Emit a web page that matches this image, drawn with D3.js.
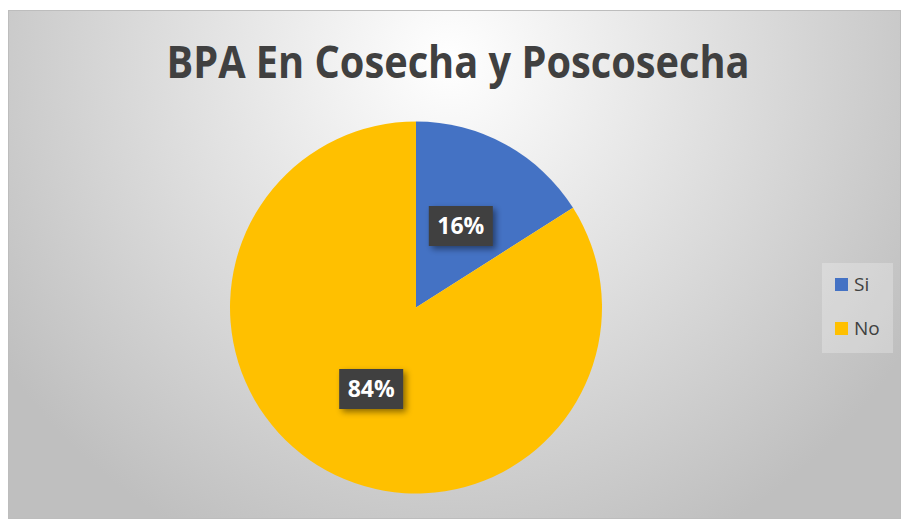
<!DOCTYPE html>
<html>
<head>
<meta charset="utf-8">
<script src="https://cdn.jsdelivr.net/npm/d3@7"></script>
<style>
  html, body { margin: 0; padding: 0; background: #fff; }
  svg { display: block; }
</style>
</head>
<body>
<div id="chart"></div>
<script>
// Chart data
const categories = ["Si", "No"];
const values = [16, 84];
const colors = ["#4472C4", "#FFC000"];
const titleText = "BPA En Cosecha y Poscosecha";

const width = 901, height = 519;
const font = "'Open Sans', 'Noto Sans', sans-serif";

const svg = d3.select("#chart")
    .append("svg")
    .attr("width", width)
    .attr("height", height);

const defs = svg.append("defs");

// Background gradient, light at top centre
const bg = defs.append("radialGradient")
    .attr("id", "bg")
    .attr("gradientUnits", "userSpaceOnUse")
    .attr("cx", 450).attr("cy", 60).attr("r", 540);
bg.append("stop").attr("offset", "0%").attr("stop-color", "#ffffff");
bg.append("stop").attr("offset", "100%").attr("stop-color", "#bfbfbf");

// Shadow for label boxes
const shadow = defs.append("filter").attr("id", "shadow")
    .attr("x", "-30%").attr("y", "-30%").attr("width", "170%").attr("height", "170%");
shadow.append("feDropShadow")
    .attr("dx", 3).attr("dy", 3).attr("stdDeviation", 3)
    .attr("flood-color", "#000").attr("flood-opacity", 0.45);

// Chart area
svg.append("rect")
    .attr("x", 8.5).attr("y", 10.5)
    .attr("width", width - 9).attr("height", height - 11)
    .attr("fill", "url(#bg)")
    .attr("stroke", "#bdbdbd");

// Title
svg.append("text")
    .attr("x", 458)
    .attr("y", 78)
    .attr("text-anchor", "middle")
    .attr("textLength", 583)
    .attr("lengthAdjust", "spacingAndGlyphs")
    .style("font-family", font)
    .style("font-weight", "bold")
    .style("font-size", "44px")
    .style("fill", "#404040")
    .text(titleText);

// Pie
const cx = 416, cy = 307.5, r = 186;
const data = categories.map((c, i) => ({ name: c, value: values[i], color: colors[i] }));

const pie = d3.pie().sort(null).value(d => d.value);
const arc = d3.arc().innerRadius(0).outerRadius(r);
const arcs = pie(data);

const g = svg.append("g").attr("transform", `translate(${cx},${cy})`);

g.selectAll("path")
    .data(arcs)
    .join("path")
    .attr("d", arc)
    .attr("fill", d => d.data.color);

// Data labels (dark boxes)
const labelArc = d3.arc().innerRadius(r * 0.5).outerRadius(r * 0.5);
const boxW = 64, boxH = 40;

const labels = g.selectAll("g.lbl")
    .data(arcs)
    .join("g")
    .attr("class", "lbl")
    .attr("transform", d => {
        const [x, y] = labelArc.centroid(d);
        return `translate(${x},${y})`;
    });

labels.append("rect")
    .attr("x", -boxW / 2).attr("y", -boxH / 2)
    .attr("width", boxW).attr("height", boxH)
    .attr("fill", "#404040")
    .attr("filter", "url(#shadow)");

labels.append("text")
    .attr("text-anchor", "middle")
    .attr("dy", "0.36em")
    .style("font-family", font)
    .style("font-weight", "bold")
    .style("font-size", "23px")
    .style("fill", "#ffffff")
    .text(d => d.data.value + "%");

// Legend
const legend = svg.append("g").attr("transform", "translate(822,263)");
legend.append("rect")
    .attr("width", 71).attr("height", 90)
    .attr("fill", "#ffffff")
    .attr("fill-opacity", 0.25);

const item = legend.selectAll("g.item")
    .data(data)
    .join("g")
    .attr("class", "item")
    .attr("transform", (d, i) => `translate(13,${15 + i * 44})`);

item.append("rect")
    .attr("width", 13).attr("height", 13)
    .attr("fill", d => d.color);

item.append("text")
    .attr("x", 19)
    .attr("y", 6.5)
    .attr("dy", "0.36em")
    .style("font-family", font)
    .style("font-size", "19px")
    .style("fill", "#404040")
    .text(d => d.name);
</script>
</body>
</html>
